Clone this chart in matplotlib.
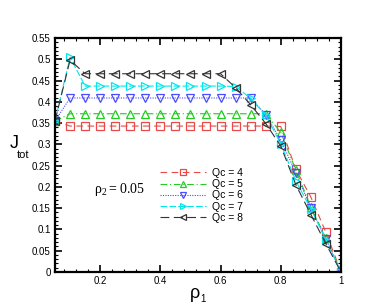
import matplotlib
matplotlib.use("Agg")
import matplotlib.pyplot as plt
from matplotlib.ticker import MultipleLocator, FuncFormatter

rho1 = [0.05, 0.10, 0.15, 0.20, 0.25, 0.30, 0.35, 0.40, 0.45, 0.50,
        0.55, 0.60, 0.65, 0.70, 0.75, 0.80, 0.85, 0.90, 0.95, 1.00]
qc4 = [0.355, 0.343, 0.343, 0.343, 0.343, 0.343, 0.343, 0.343, 0.343, 0.343,
       0.343, 0.343, 0.343, 0.343, 0.343, 0.342, 0.241, 0.176, 0.093, 0.0]
qc5 = [0.355, 0.372, 0.372, 0.372, 0.372, 0.372, 0.372, 0.372, 0.372, 0.372,
       0.372, 0.372, 0.372, 0.372, 0.372, 0.328, 0.240, 0.152, 0.080, 0.0]
qc6 = [0.355, 0.409, 0.409, 0.409, 0.409, 0.409, 0.409, 0.409, 0.409, 0.409,
       0.409, 0.409, 0.409, 0.409, 0.370, 0.310, 0.233, 0.150, 0.077, 0.0]
qc7 = [0.355, 0.505, 0.437, 0.437, 0.437, 0.437, 0.437, 0.437, 0.437, 0.437,
       0.437, 0.437, 0.436, 0.408, 0.368, 0.302, 0.214, 0.148, 0.076, 0.0]
qc8 = [0.355, 0.498, 0.466, 0.466, 0.466, 0.466, 0.466, 0.466, 0.466, 0.466,
       0.466, 0.466, 0.433, 0.393, 0.349, 0.296, 0.205, 0.135, 0.066, 0.0]
labels = ["Qc = 4", "Qc = 5", "Qc = 6", "Qc = 7", "Qc = 8"]

series = [qc4, qc5, qc6, qc7, qc8]
colors = ["#e84a4a", "#22cc22", "#4a4aff", "#00e8ee", "#333333"]
markers = ["s", "^", "v", ">", "<"]
styles = [(0, (6, 4)), (0, (6, 2.5, 1, 2.5)), (0, (1, 1.2)), (0, (6, 2)), (0, (8, 4))]

plt.rcParams['font.family'] = ['Liberation Sans', 'DejaVu Sans']
plt.rcParams['mathtext.rm'] = 'Liberation Serif'

fig = plt.figure(figsize=(3.82, 3.06), dpi=100)
ax = fig.add_axes([55/382, 1-272/306, (341-55)/382, (272-38)/306])

for ys, c, m, ls, lab in zip(series, colors, markers, styles, labels):
    ax.plot(rho1, ys, color=c, linestyle=ls, linewidth=0.8, marker=m,
            markersize=5.2, markerfacecolor='none', markeredgecolor=c,
            markeredgewidth=0.9, label=lab)

ax.set_xlim(0.05, 1.0)
ax.set_ylim(0, 0.55)
ax.xaxis.set_major_locator(MultipleLocator(0.2))
ax.xaxis.set_minor_locator(MultipleLocator(0.04))
ax.yaxis.set_major_locator(MultipleLocator(0.05))
ax.yaxis.set_minor_locator(MultipleLocator(0.01))
fmt = FuncFormatter(lambda v, p: ("%.2f" % v).rstrip('0').rstrip('.') if abs(v) > 1e-9 else "0")
ax.xaxis.set_major_formatter(fmt)
ax.yaxis.set_major_formatter(fmt)
ax.tick_params(which='both', direction='in', top=True, right=True, labelsize=7, pad=3)
ax.tick_params(which='major', length=5, width=1.2)
ax.tick_params(which='minor', length=2.5, width=0.8)
for s in ax.spines.values():
    s.set_linewidth(1.6)

leg = ax.legend(loc='upper left', bbox_to_anchor=((160-55)/286, (272-168)/234),
                frameon=False, fontsize=7.5, handlelength=4.4, handletextpad=0.6,
                labelspacing=0.12, borderaxespad=0, borderpad=0, markerscale=0.9)

ax.text((94-55)/286, (272-190)/234, r'$\mathrm{ρ_2 = 0.05}$', transform=ax.transAxes,
        fontsize=10, ha='left', va='center', math_fontfamily='custom')

fig.text(14/382, 1-144/306, "J", fontsize=13, ha='center', va='center')
fig.text(23/382, 1-155/306, "tot", fontsize=8, ha='center', va='center')
fig.text(195/382, 1-293/306, "ρ", fontsize=13, ha='center', va='center')
fig.text(203/382, 1-299/306, "1", fontsize=7, ha='center', va='center')

fig.savefig("out.png", dpi=100)
